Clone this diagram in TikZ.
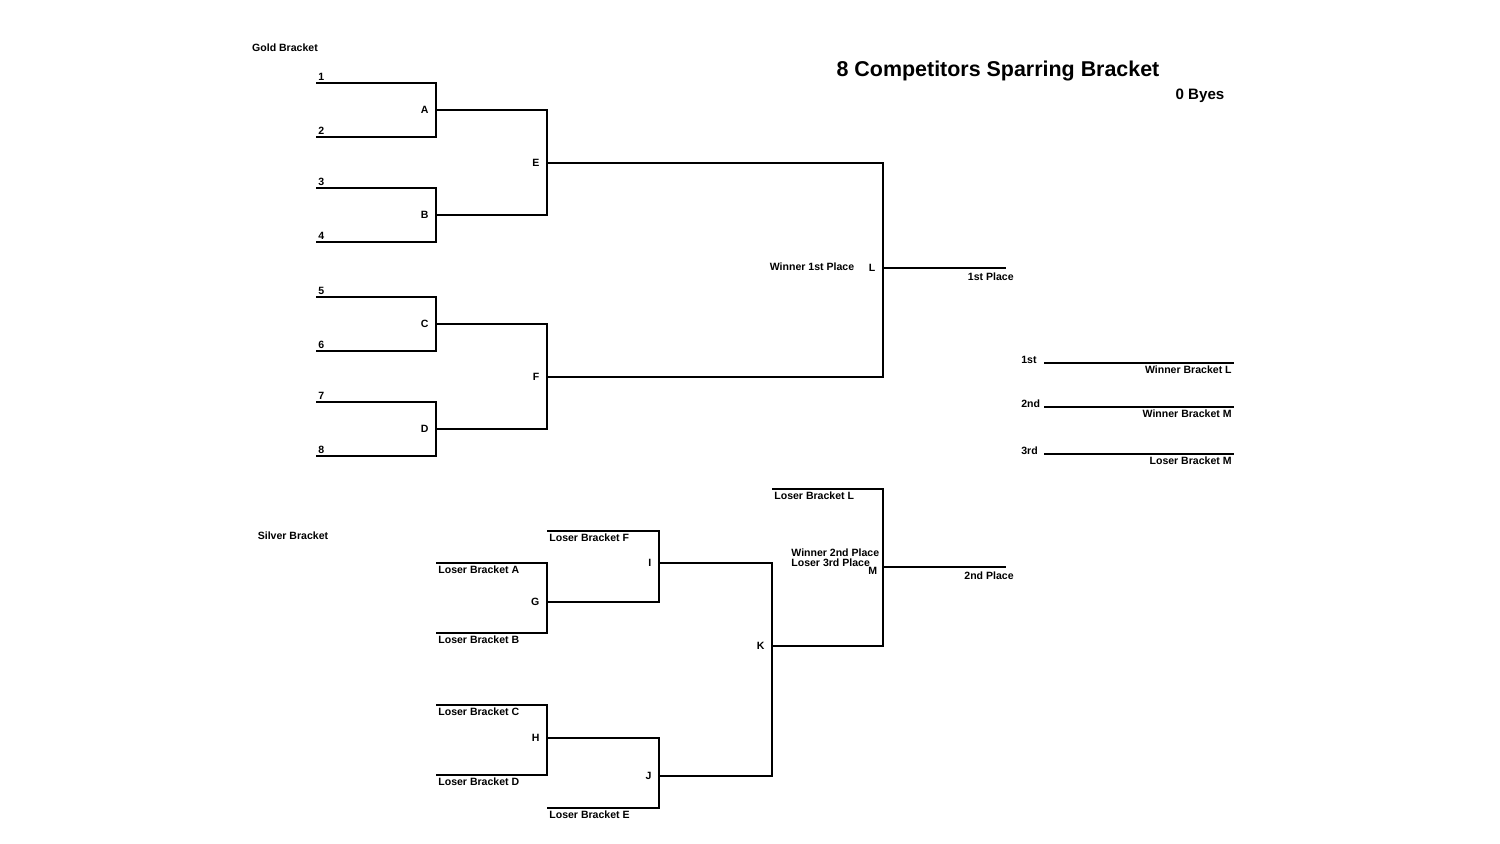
\documentclass[tikz,border=0pt]{standalone}
\usepackage{fontspec}
\setmainfont{Liberation Sans}
\usepackage{tikz}
\usetikzlibrary{positioning,calc}

\begin{document}
\begin{tikzpicture}[x=0.02cm, y=-0.02cm, line width=1.1pt,
                    every node/.style={font=\fontsize{6}{7}\selectfont\bfseries, inner sep=0.8pt},
                    mlbl/.style={left, xshift=-3pt},
                    slbl/.style={above right},
                    lbl/.style={below right},
                    rlbl/.style={below left}]
                    \useasboundingbox (0,0) rectangle (1500,843);
                    % headings
                    \node (gold) at (285,48) {Gold Bracket};
                    \node (silver) at (293,536) {Silver Bracket};
                    \node[font=\fontsize{12.2}{14}\selectfont\bfseries] (title) at (998,71) {8 Competitors Sparring Bracket};
                    \node[font=\fontsize{8.6}{10}\selectfont\bfseries] (byes) at (1200,96) {0 Byes};
                    % gold bracket
                    \coordinate (g1) at (316,83);  \coordinate (g2) at (316,137);
                    \coordinate (g3) at (316,188); \coordinate (g4) at (316,242);
                    \coordinate (g5) at (316,297); \coordinate (g6) at (316,351);
                    \coordinate (g7) at (316,402); \coordinate (g8) at (316,456);
                    \coordinate (A) at (436,110); \coordinate (B) at (436,215);
                    \coordinate (C) at (436,324); \coordinate (D) at (436,429);
                    \coordinate (E) at (547,163); \coordinate (F) at (547,377);
                    \coordinate (L) at (883,268); \coordinate (p1) at (1006,268);
                    \draw (g1) -| (A) |- (g2);
                    \draw (g3) -| (B) |- (g4);
                    \draw (g5) -| (C) |- (g6);
                    \draw (g7) -| (D) |- (g8);
                    \draw (A) -| (E) |- (B);
                    \draw (C) -| (F) |- (D);
                    \draw (E) -| (L) |- (F);
                    \draw (L) -- (p1);
                    \foreach \s in {1,...,8}
                        \node[slbl] (n\s) at (g\s) {\s};
                    \foreach \m in {A,B,C,D,E,F,L}
                        \node[mlbl] (t\m) at (\m) {\m};
                    \node (w1) at (812,267) {Winner 1st Place};
                    \node[rlbl] (first) at (1016,270) {1st Place};
                    % silver bracket
                    \coordinate (lA) at (436,563); \coordinate (lB) at (436,633);
                    \coordinate (lC) at (436,705); \coordinate (lD) at (436,775);
                    \coordinate (lF) at (547,531); \coordinate (lE) at (547,808);
                    \coordinate (lL) at (772,489);
                    \coordinate (G) at (547,602); \coordinate (H) at (547,738);
                    \coordinate (I) at (659,563); \coordinate (J) at (659,776);
                    \coordinate (K) at (772,646); \coordinate (M) at (883,567);
                    \coordinate (p2) at (1006,567);
                    \draw (lA) -| (G) |- (lB);
                    \draw (lC) -| (H) |- (lD);
                    \draw (lF) -| (I) |- (G);
                    \draw (H) -| (J) |- (lE);
                    \draw (I) -| (K) |- (J);
                    \draw (lL) -| (M) |- (K);
                    \draw (M) -- (p2);
                    \foreach \l in {A,B,C,D,E,F,L}
                        \node[lbl] (t\l l) at (l\l) {Loser Bracket \l};
                    \foreach \m in {G,H,I,J,K}
                        \node[mlbl] (t\m) at (\m) {\m};
                    \node[left, xshift=-2pt, yshift=-2pt] (tM) at (M) {M};
                    \node[anchor=west] (w2) at (789,553) {Winner 2nd Place};
                    \node[anchor=west] (w3) at (789,563) {Loser 3rd Place};
                    \node[rlbl] (second) at (1016,569) {2nd Place};
                    % results
                    \coordinate (r1a) at (1044,363); \coordinate (r1b) at (1234,363);
                    \coordinate (r2a) at (1044,407); \coordinate (r2b) at (1234,407);
                    \coordinate (r3a) at (1044,454); \coordinate (r3b) at (1234,454);
                    \draw (r1a) -- (r1b);
                    \draw (r2a) -- (r2b);
                    \draw (r3a) -- (r3b);
                    \node[anchor=base west] (o1) at (1019,363) {1st};
                    \node[anchor=base west] (o2) at (1019,407) {2nd};
                    \node[anchor=base west] (o3) at (1019,454) {3rd};
                    \node[rlbl] (o1l) at (r1b) {Winner Bracket L};
                    \node[rlbl] (o2l) at (r2b) {Winner Bracket M};
                    \node[rlbl] (o3l) at (r3b) {Loser Bracket M};
                \end{tikzpicture}
\end{document}
